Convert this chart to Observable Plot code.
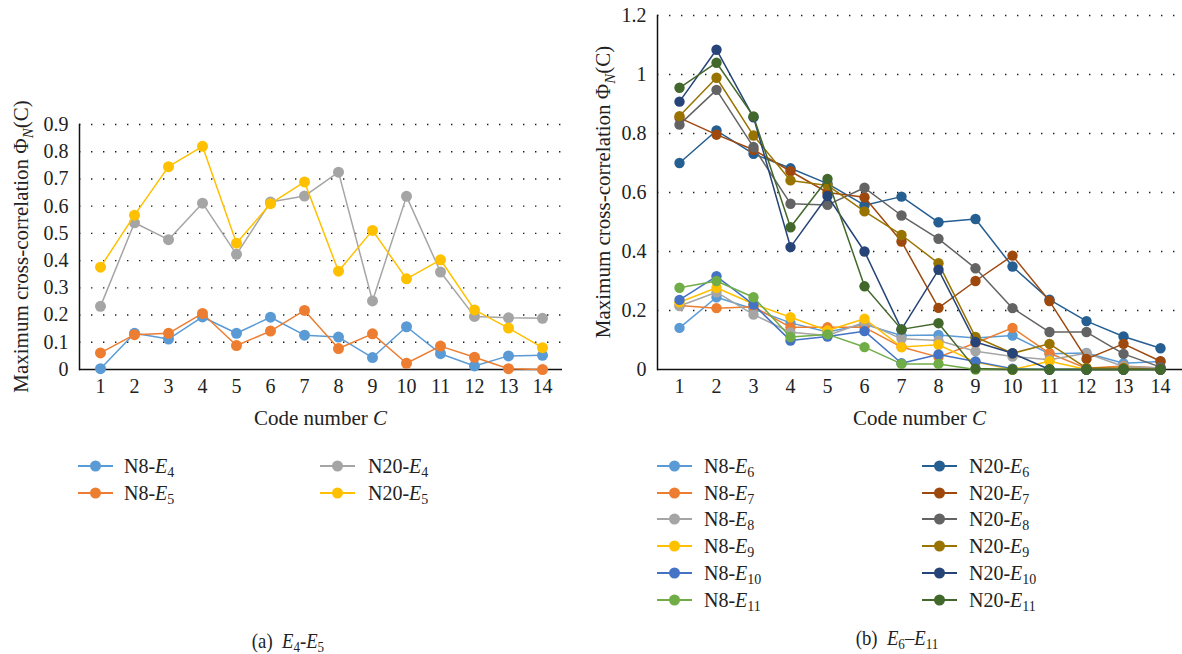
<!DOCTYPE html>
<html>
<head>
<meta charset="utf-8">
<script src="https://cdn.jsdelivr.net/npm/d3@7"></script>
<script src="https://cdn.jsdelivr.net/npm/@observablehq/plot@0.6"></script>
<style>
  body { margin: 0; background: #fff; font-family: "Liberation Serif", "DejaVu Serif", serif; color: #222; }
  #wrap { position: relative; width: 1182px; height: 654px; overflow: hidden; background: #fff; }
  .chart { position: absolute; top: 0; }
  .chart text, .chart g { font-family: "Liberation Serif", "DejaVu Serif", serif !important; }
  .item { position: absolute; white-space: nowrap; height: 26px; font-size: 20px; line-height: 26px; }
  .item svg { position: absolute; left: 0; top: 0; }
  .item span { position: absolute; top: 0; }
  sub { font-size: 0.7em; vertical-align: -0.25em; line-height: 0; }
  .cap { position: absolute; font-size: 22px; white-space: nowrap; transform: translate(-50%, -50%) scaleX(0.85); }
</style>
</head>
<body>
<div id="wrap"></div>
<script>
// ---------- data ----------
const codes = [1, 2, 3, 4, 5, 6, 7, 8, 9, 10, 11, 12, 13, 14];

// (a) E4-E5
const leftNames = ["N8-E4", "N8-E5", "N20-E4", "N20-E5"];
const leftSubs  = ["4", "5", "4", "5"];
const n8E4  = [0.003, 0.133, 0.112, 0.193, 0.133, 0.192, 0.126, 0.119, 0.044, 0.157, 0.058, 0.013, 0.05, 0.052];
const n8E5  = [0.061, 0.128, 0.133, 0.206, 0.088, 0.141, 0.217, 0.077, 0.131, 0.023, 0.086, 0.045, 0.003, 0.0];
const n20E4 = [0.232, 0.539, 0.477, 0.611, 0.423, 0.615, 0.637, 0.725, 0.252, 0.636, 0.358, 0.195, 0.19, 0.188];
const n20E5 = [0.376, 0.567, 0.745, 0.82, 0.464, 0.609, 0.689, 0.361, 0.511, 0.333, 0.403, 0.219, 0.152, 0.08];
const leftValues = [n8E4, n8E5, n20E4, n20E5];
const leftTicks = [0, 0.1, 0.2, 0.3, 0.4, 0.5, 0.6, 0.7, 0.8, 0.9];

// (b) E6-E11
const rightNames = ["N8-E6", "N8-E7", "N8-E8", "N8-E9", "N8-E10", "N8-E11",
                    "N20-E6", "N20-E7", "N20-E8", "N20-E9", "N20-E10", "N20-E11"];
const rightSubs = ["6", "7", "8", "9", "10", "11", "6", "7", "8", "9", "10", "11"];
const n8E6   = [0.141, 0.245, 0.205, 0.158, 0.127, 0.153, 0.115, 0.117, 0.107, 0.115, 0.053, 0.056, 0.021, 0.027];
const n8E7   = [0.217, 0.208, 0.213, 0.143, 0.143, 0.143, 0.076, 0.042, 0.09, 0.141, 0.055, 0.004, 0.012, 0.005];
const n8E8   = [0.215, 0.262, 0.186, 0.126, 0.115, 0.16, 0.104, 0.098, 0.062, 0.044, 0.033, 0.055, 0.01, 0.005];
const n8E9   = [0.228, 0.277, 0.222, 0.177, 0.132, 0.172, 0.076, 0.084, 0.025, 0.0, 0.028, 0.0, 0.0, 0.0];
const n8E10  = [0.236, 0.316, 0.22, 0.098, 0.112, 0.13, 0.021, 0.051, 0.027, 0.003, 0.0, 0.0, 0.0, 0.0];
const n8E11  = [0.277, 0.3, 0.245, 0.11, 0.119, 0.076, 0.019, 0.019, 0.0, 0.0, 0.0, 0.0, 0.0, 0.0];
const n20E6  = [0.7, 0.81, 0.731, 0.682, 0.63, 0.557, 0.586, 0.499, 0.51, 0.349, 0.237, 0.164, 0.112, 0.072];
const n20E7  = [0.853, 0.796, 0.745, 0.672, 0.6, 0.584, 0.434, 0.209, 0.3, 0.386, 0.232, 0.036, 0.087, 0.028];
const n20E8  = [0.83, 0.948, 0.754, 0.562, 0.558, 0.616, 0.522, 0.443, 0.343, 0.208, 0.127, 0.127, 0.053, 0.008];
const n20E9  = [0.859, 0.989, 0.793, 0.641, 0.624, 0.536, 0.456, 0.36, 0.11, 0.055, 0.087, 0.005, 0.005, 0.0];
const n20E10 = [0.908, 1.084, 0.855, 0.415, 0.588, 0.4, 0.136, 0.338, 0.093, 0.055, 0.0, 0.0, 0.0, 0.0];
const n20E11 = [0.955, 1.04, 0.858, 0.482, 0.646, 0.282, 0.136, 0.157, 0.003, 0.0, 0.0, 0.0, 0.0, 0.0];
const rightValues = [n8E6, n8E7, n8E8, n8E9, n8E10, n8E11, n20E6, n20E7, n20E8, n20E9, n20E10, n20E11];
const rightTicks = [0, 0.2, 0.4, 0.6, 0.8, 1, 1.2];

// ---------- styles ----------
const leftColors  = ["#5b9bd5", "#ed7d31", "#a5a5a5", "#ffc000"];
const rightColors = ["#5b9bd5", "#ed7d31", "#a5a5a5", "#ffc000", "#4472c4", "#70ad47",
                     "#255e91", "#9e480e", "#636363", "#997300", "#264478", "#43682b"];
const serif = '"Liberation Serif", "DejaVu Serif", serif';

const wrap = document.getElementById("wrap");
const fmt = d3.format("~g");

function rowsFor(name, vals) {
  return codes.map((c, i) => ({ code: c, value: vals[i], series: name }));
}

function makeChart(o) {
  const marks = [
    Plot.gridY(o.ticks.filter(t => t > 0), { stroke: "#1a1a1a", strokeOpacity: 1, strokeWidth: 1.4, strokeDasharray: "1.4 10.6" }),
    Plot.axisY(o.ticks, { tickSize: 0, tickPadding: 11, tickFormat: fmt, fontSize: 20, fontFamily: serif, fill: "#222" }),
    Plot.axisX(codes, { tickSize: 0, tickPadding: 9, fontSize: 20, fontFamily: serif, fill: "#222" }),
    Plot.frame({ anchor: "left", stroke: "#111", strokeWidth: 1.5 }),
    Plot.ruleY([0], { stroke: "#111", strokeWidth: 1.6 })
  ];
  o.names.forEach((n, i) => {
    const rows = rowsFor(n, o.values[i]);
    marks.push(Plot.line(rows, { x: "code", y: "value", stroke: o.colors[i], strokeWidth: 1.5 }));
    marks.push(Plot.dot(rows, { x: "code", y: "value", fill: o.colors[i], r: o.r, stroke: "none" }));
  });
  const p = Plot.plot({
    width: o.width, height: o.height,
    marginLeft: o.ml, marginRight: o.mr, marginTop: o.mt, marginBottom: o.mb,
    x: { type: "point", domain: codes, padding: 0.5, label: null },
    y: { domain: o.domain, label: null },
    style: { fontFamily: serif, background: "transparent", color: "#222" },
    marks
  });
  const svg = d3.select(p);
  // y title
  const t = svg.append("text")
    .attr("transform", `translate(${o.yTitleX},${(o.mt + o.height - o.mb) / 2}) rotate(-90)`)
    .attr("text-anchor", "middle").attr("font-size", 21).attr("font-family", serif).attr("fill", "#222");
  t.append("tspan").text("Maximum cross-correlation \u03A6");
  t.append("tspan").attr("font-style", "italic").attr("font-size", 15).attr("dy", 5).text("N");
  t.append("tspan").attr("dy", -5).text("(C)");
  // x title
  const xt = svg.append("text")
    .attr("x", (o.ml + o.width - o.mr) / 2).attr("y", 425)
    .attr("text-anchor", "middle").attr("font-size", 21).attr("font-family", serif).attr("fill", "#222");
  xt.append("tspan").text("Code number ");
  xt.append("tspan").attr("font-style", "italic").text("C");
  p.classList.add("chart");
  p.style.left = o.left + "px";
  wrap.appendChild(p);
}

makeChart({ names: leftNames, values: leftValues, colors: leftColors, ticks: leftTicks, domain: [0, 0.9],
  width: 590, height: 440, ml: 79, mr: 28, mt: 124, mb: 71, left: 0, r: 5.5, yTitleX: 28 });
makeChart({ names: rightNames, values: rightValues, colors: rightColors, ticks: rightTicks, domain: [0, 1.2],
  width: 592, height: 440, ml: 67, mr: 0, mt: 15, mb: 71, left: 590, r: 5.2, yTitleX: 20 });

// ---------- legends ----------
function legendItem(x, y, color, name, sub, textOff) {
  const d = document.createElement("div");
  d.className = "item";
  d.style.left = x + "px";
  d.style.top = (y - 13) + "px";
  d.innerHTML = `<svg width="36" height="26"><line x1="0" x2="35" y1="13" y2="13" stroke="${color}" stroke-width="2"/><circle cx="17.5" cy="13" r="5.5" fill="${color}"/></svg>` +
    `<span style="left:${textOff}px">${name.split("-")[0]}-<i>E</i><sub>${sub}</sub></span>`;
  wrap.appendChild(d);
}
leftNames.forEach((n, i) => {
  const col = i < 2 ? 0 : 1, row = i % 2;
  legendItem(col ? 320 : 78, 466 + row * 26.7, leftColors[i], n, leftSubs[i], col ? 48 : 46);
});
rightNames.forEach((n, i) => {
  const col = i < 6 ? 0 : 1, row = i % 6;
  legendItem(col ? 922 : 657, 466 + row * 26.7, rightColors[i], n, rightSubs[i], 47);
});

// ---------- captions ----------
function caption(x, y, html) {
  const c = document.createElement("div");
  c.className = "cap";
  c.style.left = x + "px";
  c.style.top = y + "px";
  c.innerHTML = html;
  wrap.appendChild(c);
}
caption(288, 641, "(a)&nbsp; <i>E</i><sub>4</sub>-<i>E</i><sub>5</sub>");
caption(897, 638, "(b)&nbsp; <i>E</i><sub>6</sub>–<i>E</i><sub>11</sub>");
</script>
</body>
</html>
